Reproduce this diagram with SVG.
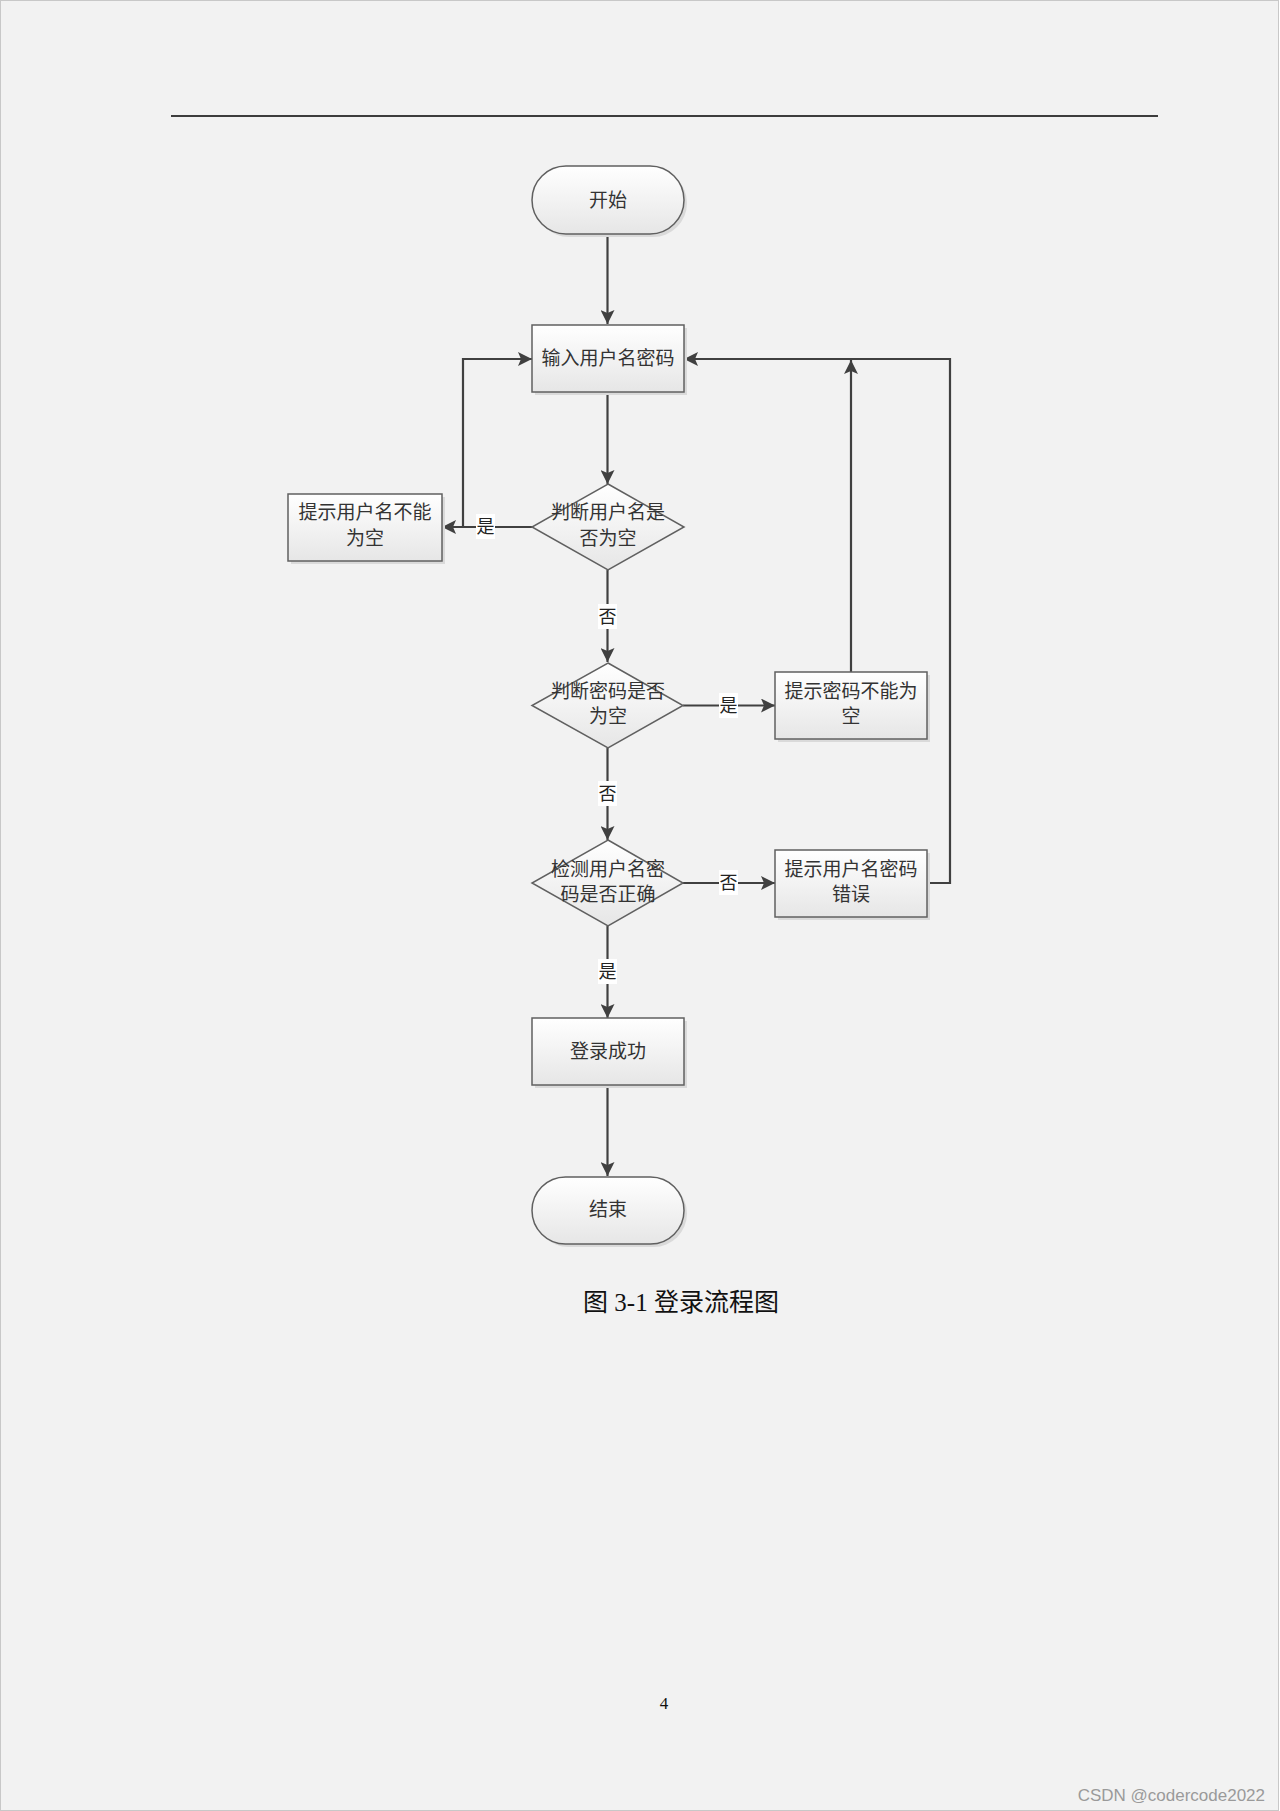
<svg xmlns="http://www.w3.org/2000/svg" width="1280" height="1811" viewBox="0 0 1280 1811">
<defs>
<linearGradient id="g" x1="0" y1="0" x2="0" y2="1">
<stop offset="0" stop-color="#ffffff"/>
<stop offset="1" stop-color="#e6e6e6"/>
</linearGradient>
<marker id="arr" viewBox="0 0 14 14" refX="14" refY="7" markerWidth="14" markerHeight="14" markerUnits="userSpaceOnUse" orient="auto">
<path d="M0,0 L14,7 L0,14 L3,7 Z" fill="#404040"/>
</marker>
</defs>
<style>
.shape{fill:url(#g);stroke:#606060;stroke-width:1.5}
.shadow{fill:#dadada;stroke:none}
.t{font-family:"Noto Sans CJK SC","Liberation Sans",sans-serif;font-size:19px;fill:#333333;text-anchor:middle}
.lbl{font-family:"Noto Sans CJK SC","Liberation Sans",sans-serif;font-size:18px;fill:#222222;text-anchor:middle}
.lb{fill:#ffffff}
.c{fill:none;stroke:#404040;stroke-width:2.2}
</style>
<rect x="0.5" y="0.5" width="1278" height="1810" fill="#f2f2f2" stroke="#c8c8c8" stroke-width="1"/>
<line x1="171" y1="116" x2="1158" y2="116" stroke="#000" stroke-width="1.3"/>

<g id="connectors">
<path class="c" d="M607.5,234 V324" marker-end="url(#arr)"/>
<path class="c" d="M607.5,392 V484" marker-end="url(#arr)"/>
<path class="c" d="M532,527 H442" marker-end="url(#arr)"/>
<path class="c" d="M463,527 V359 H532" marker-end="url(#arr)"/>
<path class="c" d="M607.5,570 V662" marker-end="url(#arr)"/>
<path class="c" d="M683,705.5 H775" marker-end="url(#arr)"/>
<path class="c" d="M851,672 V360" marker-end="url(#arr)"/>
<path class="c" d="M607.5,748 V840" marker-end="url(#arr)"/>
<path class="c" d="M683,883 H775" marker-end="url(#arr)"/>
<path class="c" d="M927,883 H950 V359 H684" marker-end="url(#arr)"/>
<path class="c" d="M607.5,926 V1018" marker-end="url(#arr)"/>
<path class="c" d="M607.5,1085 V1176" marker-end="url(#arr)"/>
<rect class="lb" x="476" y="514" width="19" height="25"/>
<text class="lbl" x="485.5" y="533">是</text>
<rect class="lb" x="598" y="604" width="19" height="25"/>
<text class="lbl" x="607.5" y="623">否</text>
<rect class="lb" x="719" y="693" width="19" height="25"/>
<text class="lbl" x="728.5" y="712">是</text>
<rect class="lb" x="598" y="781" width="19" height="25"/>
<text class="lbl" x="607.5" y="800">否</text>
<rect class="lb" x="719" y="870" width="19" height="25"/>
<text class="lbl" x="728.5" y="889">否</text>
<rect class="lb" x="598" y="959" width="19" height="25"/>
<text class="lbl" x="607.5" y="978">是</text>
</g>

<g id="start">
<rect class="shadow" x="535" y="169" width="152" height="68" rx="34"/>
<rect class="shape" x="532" y="166" width="152" height="68" rx="34"/>
<text class="t" x="608" y="207">开始</text>
</g>

<g id="input">
<rect class="shadow" x="535" y="328" width="152" height="67"/>
<rect class="shape" x="532" y="325" width="152" height="67"/>
<text class="t" x="608" y="365">输入用户名密码</text>
</g>

<g id="check-user">
<polygon class="shape" points="608,484 684,527 608,570 532,527"/>
<text class="t" x="608" y="519">判断用户名是</text>
<text class="t" x="608" y="545">否为空</text>
</g>

<g id="user-empty">
<rect class="shadow" x="291" y="497" width="154" height="67"/>
<rect class="shape" x="288" y="494" width="154" height="67"/>
<text class="t" x="365" y="519">提示用户名不能</text>
<text class="t" x="365" y="545">为空</text>
</g>

<g id="check-pwd">
<polygon class="shape" points="608,663 683,705.5 608,748 532,705.5"/>
<text class="t" x="608" y="698">判断密码是否</text>
<text class="t" x="608" y="723">为空</text>
</g>

<g id="pwd-empty">
<rect class="shadow" x="778" y="675" width="152" height="67"/>
<rect class="shape" x="775" y="672" width="152" height="67"/>
<text class="t" x="851" y="698">提示密码不能为</text>
<text class="t" x="851" y="723">空</text>
</g>

<g id="check-correct">
<polygon class="shape" points="608,840 683,883 608,926 532,883"/>
<text class="t" x="608" y="876">检测用户名密</text>
<text class="t" x="608" y="901">码是否正确</text>
</g>

<g id="wrong">
<rect class="shadow" x="778" y="853" width="152" height="67"/>
<rect class="shape" x="775" y="850" width="152" height="67"/>
<text class="t" x="851" y="876">提示用户名密码</text>
<text class="t" x="851" y="901">错误</text>
</g>

<g id="success">
<rect class="shadow" x="535" y="1021" width="152" height="67"/>
<rect class="shape" x="532" y="1018" width="152" height="67"/>
<text class="t" x="608" y="1058">登录成功</text>
</g>

<g id="end">
<rect class="shadow" x="535" y="1180" width="152" height="67" rx="33.5"/>
<rect class="shape" x="532" y="1177" width="152" height="67" rx="33.5"/>
<text class="t" x="608" y="1216">结束</text>
</g>

<text x="681" y="1311" font-family="'Liberation Serif','Noto Sans CJK SC',serif" font-size="25" fill="#111" text-anchor="middle">图 3-1 登录流程图</text>
<text x="664" y="1709" font-family="'Liberation Serif',serif" font-size="17" fill="#111" text-anchor="middle">4</text>
<text x="1265" y="1801" font-family="'Liberation Sans',sans-serif" font-size="17" fill="#9a9a9a" text-anchor="end">CSDN @codercode2022</text>
</svg>
